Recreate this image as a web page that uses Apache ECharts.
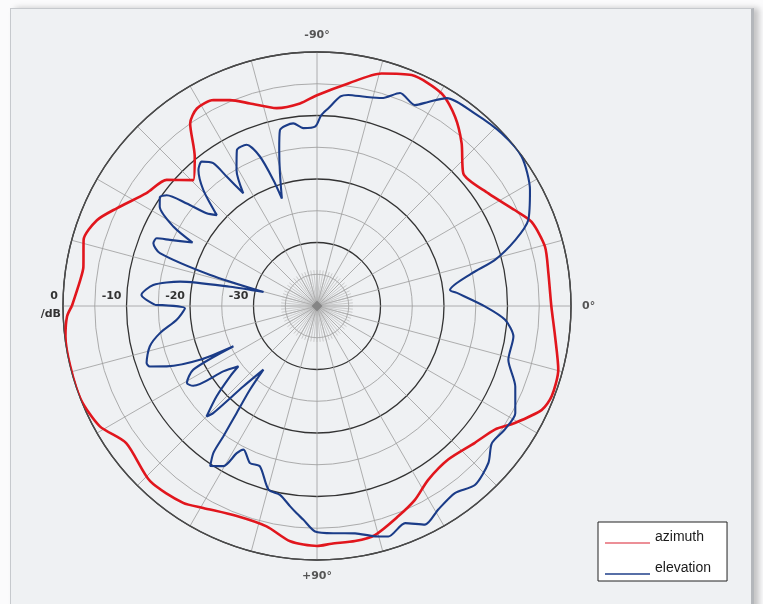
<!DOCTYPE html>
<html>
<head>
<meta charset="utf-8">
<title>antenna pattern</title>
<script src="https://cdn.jsdelivr.net/npm/echarts@6/dist/echarts.min.js"></script>
<style>
html, body { margin: 0; padding: 0; background: #fbfbfc; overflow: hidden; }
.frame {
  position: absolute; left: 10px; top: 8px; width: 740px; height: 640px;
  background: #eff1f3; border: 1.5px solid #c6c9cd; border-right: 3px solid #b4b7bb;
  box-shadow: 5px 0 6px rgba(0, 0, 0, 0.22);
}
#chart { position: absolute; left: 0; top: 0; width: 763px; height: 604px; }
</style>
</head>
<body>
<div class="frame"></div>
<div id="chart"></div>
<script>
// angle in degrees: 0 = right, -90 = top, +90 = bottom. level in dB
var angleLabels = { '-90': '-90°', '0': '0°', '90': '+90°' }
var dbMin = -40
var dbMax = 0

var azimuthAngle = [-180, -173.7, -170.5, -164.2, -158.7, -154, -146.5, -140, -134.5, -129.3,
  -124.8, -121.3, -116.7, -112.9, -108.3, -101.5, -94.8, -90, -82, -74.5,
  -67.7, -59.6, -53.9, -48.4, -42.2, -33.3, -25.9, -21.4, -14.6, -8,
  0, 7.3, 14.8, 21, 24.8, 30.6, 34.8, 40.9, 49.5, 57.4,
  63.2, 68.9, 75.8, 80.8, 86.5, 90, 96.5, 102.9, 110.9, 119.4,
  124.2, 133.6, 144.3, 151, 158.4, 166.3, 173.1, 177.6, 180]
var azimuthDb = [-1.4, -2.5, -2.7, -1.8, -2.8, -4.9, -7.8, -9.1, -12.2, -9.6,
  -5.0, -3.6, -3.7, -4.8, -6.4, -8.2, -8.0, -6.8, -4.6, -2.0,
  -0.7, -1.2, -3.1, -5.7, -8.9, -7.7, -5.4, -3.7, -2.9, -3.2,
  -3.1, -2.2, -0.7, -0.4, -1.0, -3.8, -5.9, -7.1, -8.2, -7.5,
  -5.8, -4.5, -2.8, -2.5, -2.5, -2.2, -2.7, -4.4, -4.6, -3.5,
  -2.5, -1.9, -3.0, -0.9, 0, 0, -0.1, -0.6, -1.4]

var elevationAngle = [-179.6, -176.4, -172.7, -169.9, -167.5, -165.4, -163.8, -161.4, -159, -157.1,
  -155.8, -153, -151.1, -147.7, -145.3, -143.6, -141.8, -140, -137.8, -134.4,
  -131.1, -128.6, -126, -124.9, -123.2, -120.6, -117.2, -113.6, -110.9, -109.1,
  -108.1, -105.6, -103.6, -101.9, -97.4, -94.4, -90.5, -88.8, -86.7, -83.6,
  -81.6, -77.1, -72.7, -68.7, -64, -61.4, -58, -50.6, -43.1, -36.1,
  -28.6, -22.1, -18.4, -14.5, -11.9, -6.9, -5.1, 0.2, 4.2, 8.8,
  15.7, 22.1, 28.4, 33.3, 38.1, 42.5, 48.5, 53.6, 59.2, 63.7,
  67.9, 72.8, 75.9, 80.5, 85.5, 90.5, 93.7, 95.6, 97.7, 101.1,
  104.8, 109.6, 113.1, 117.1, 118.6, 120.3, 123.7, 125.2, 125.7, 126.9,
  128.7, 130.1, 132.5, 134.1, 135, 138, 141, 142.5, 145.1, 147.2,
  149.4, 152.8, 154.3, 155.3, 158.1, 160.1, 161.5, 166.4, 170.2, 174.4,
  179, -179.6]
var elevationDb = [-14.5, -12.3, -14.0, -18.1, -26.0, -31.3, -22.5, -13.9, -12.4, -12.6,
  -14.6, -18.0, -14.2, -10.7, -9.9, -10.6, -13.9, -17.3, -18.7, -14.4,
  -11.6, -10.9, -12.2, -15.2, -18.8, -15.1, -12.4, -12.3, -14.8, -19.0,
  -22.2, -18.3, -14.7, -11.7, -11.0, -11.9, -11.7, -10.0, -8.8, -6.8,
  -6.4, -6.2, -5.7, -4.0, -4.8, -3.4, -1.4, -0.8, -0.2, -0.1,
  -1.8, -4.1, -7.1, -11.1, -15.1, -18.9, -17.7, -13.5, -10.3, -8.7,
  -8.7, -6.3, -4.5, -4.6, -5.0, -3.4, -2.4, -3.4, -2.7, -1.6,
  -3.1, -2.0, -2.6, -3.7, -4.1, -4.5, -6.3, -7.2, -8.2, -9.7,
  -10.1, -13.2, -13.1, -14.6, -13.6, -10.8, -9.7, -11.7, -14.7, -18.9,
  -23.1, -26.9, -22.8, -16.5, -15.4, -18.7, -22.4, -24.4, -22.0, -16.8,
  -16.2, -18.1, -25.4, -19.7, -14.5, -12.0, -11.7, -12.9, -14.9, -17.8,
  -19.2, -14.5]

function toPolar(angles, levels) {
  return angles.map(function (a, i) { return [levels[i], a] })
}

var chart = echarts.init(document.getElementById('chart'))
var option = {
  animation: false,
  polar: [
    { center: [317, 306], radius: 254 },
    { center: [317, 306], radius: 36 },
  ],
  angleAxis: [
    {
      polarIndex: 0,
      type: 'value',
      min: -180,
      max: 180,
      interval: 15,
      startAngle: 180,
      clockwise: true,
      axisLine: { lineStyle: { color: '#4a4a4a', width: 1.4 } },
      axisTick: { show: false },
      axisLabel: {
        margin: 11,
        color: '#555',
        fontSize: 11,
        fontWeight: 'bold',
        fontFamily: 'DejaVu Sans',
        formatter: function (v) { return angleLabels[String(v)] || '' },
      },
      splitLine: { lineStyle: { color: '#9c9c9c', width: 0.8 } },
    },
    {
      polarIndex: 1,
      type: 'value',
      min: -180,
      max: 180,
      interval: 5,
      startAngle: 180,
      axisLine: { show: false },
      axisTick: { show: false },
      axisLabel: { show: false },
      splitLine: { lineStyle: { color: '#b0b0b0', width: 0.6 } },
    },
  ],
  radiusAxis: [
    {
      polarIndex: 0,
      type: 'value',
      min: dbMin,
      max: dbMax,
      interval: 10,
      axisLine: { show: false },
      axisTick: { show: false },
      axisLabel: {
        margin: -4,
        align: 'right',
        verticalAlign: 'bottom',
        padding: [0, 5, 0, 0],
        color: '#333',
        fontSize: 11,
        fontWeight: 'bold',
        fontFamily: 'DejaVu Sans',
        formatter: function (v) { return v === dbMin ? '' : String(v) },
      },
      name: '/dB',
      nameLocation: 'end',
      nameGap: 2,
      nameTextStyle: {
        align: 'right',
        verticalAlign: 'top',
        padding: [3, 0, 0, 0],
        color: '#333',
        fontSize: 11,
        fontWeight: 'bold',
        fontFamily: 'DejaVu Sans',
      },
      splitLine: { lineStyle: { color: '#333', width: 1.3 } },
      minorTick: { show: false, splitNumber: 2 },
      minorSplitLine: { show: true, lineStyle: { color: '#a3a3a3', width: 0.9 } },
    },
    {
      polarIndex: 1,
      type: 'value',
      min: 0,
      max: 1,
      axisLine: { show: false },
      axisTick: { show: false },
      axisLabel: { show: false },
      splitLine: { show: false },
    },
  ],
  legend: {
    orient: 'vertical',
    left: 598,
    top: 522,
    padding: [8, 16, 6, 7],
    itemGap: 17,
    itemWidth: 45,
    itemHeight: 14,
    backgroundColor: '#fff',
    borderColor: '#222',
    borderWidth: 1,
    borderRadius: 0,
    icon: 'path://M0,0M0,12L45,12L45,13.4L0,13.4Z',
    textStyle: { fontSize: 14, color: '#1a1a1a', fontFamily: 'Liberation Sans' },
    data: [
      { name: 'azimuth', itemStyle: { color: '#e66a74' } },
      { name: 'elevation', itemStyle: { color: '#1f3f8a' } },
    ],
  },
  series: [
    {
      name: 'azimuth',
      type: 'line',
      coordinateSystem: 'polar',
      polarIndex: 0,
      data: toPolar(azimuthAngle, azimuthDb),
      symbol: 'none',
      smooth: 0.25,
      lineStyle: { color: '#e1161d', width: 2.6 },
      itemStyle: { color: '#e1161d' },
      z: 3,
    },
    {
      name: 'elevation',
      type: 'line',
      coordinateSystem: 'polar',
      polarIndex: 0,
      data: toPolar(elevationAngle, elevationDb),
      symbol: 'none',
      smooth: 0.25,
      lineStyle: { color: '#1b3c88', width: 2.1 },
      itemStyle: { color: '#1b3c88' },
      z: 4,
    },
    {
      type: 'scatter',
      coordinateSystem: 'polar',
      polarIndex: 0,
      data: [[dbMin, 0]],
      symbol: 'diamond',
      symbolSize: 11,
      itemStyle: { color: '#7a7a7a' },
      silent: true,
      z: 5,
    },
  ],
}
chart.setOption(option)
</script>
</body>
</html>
